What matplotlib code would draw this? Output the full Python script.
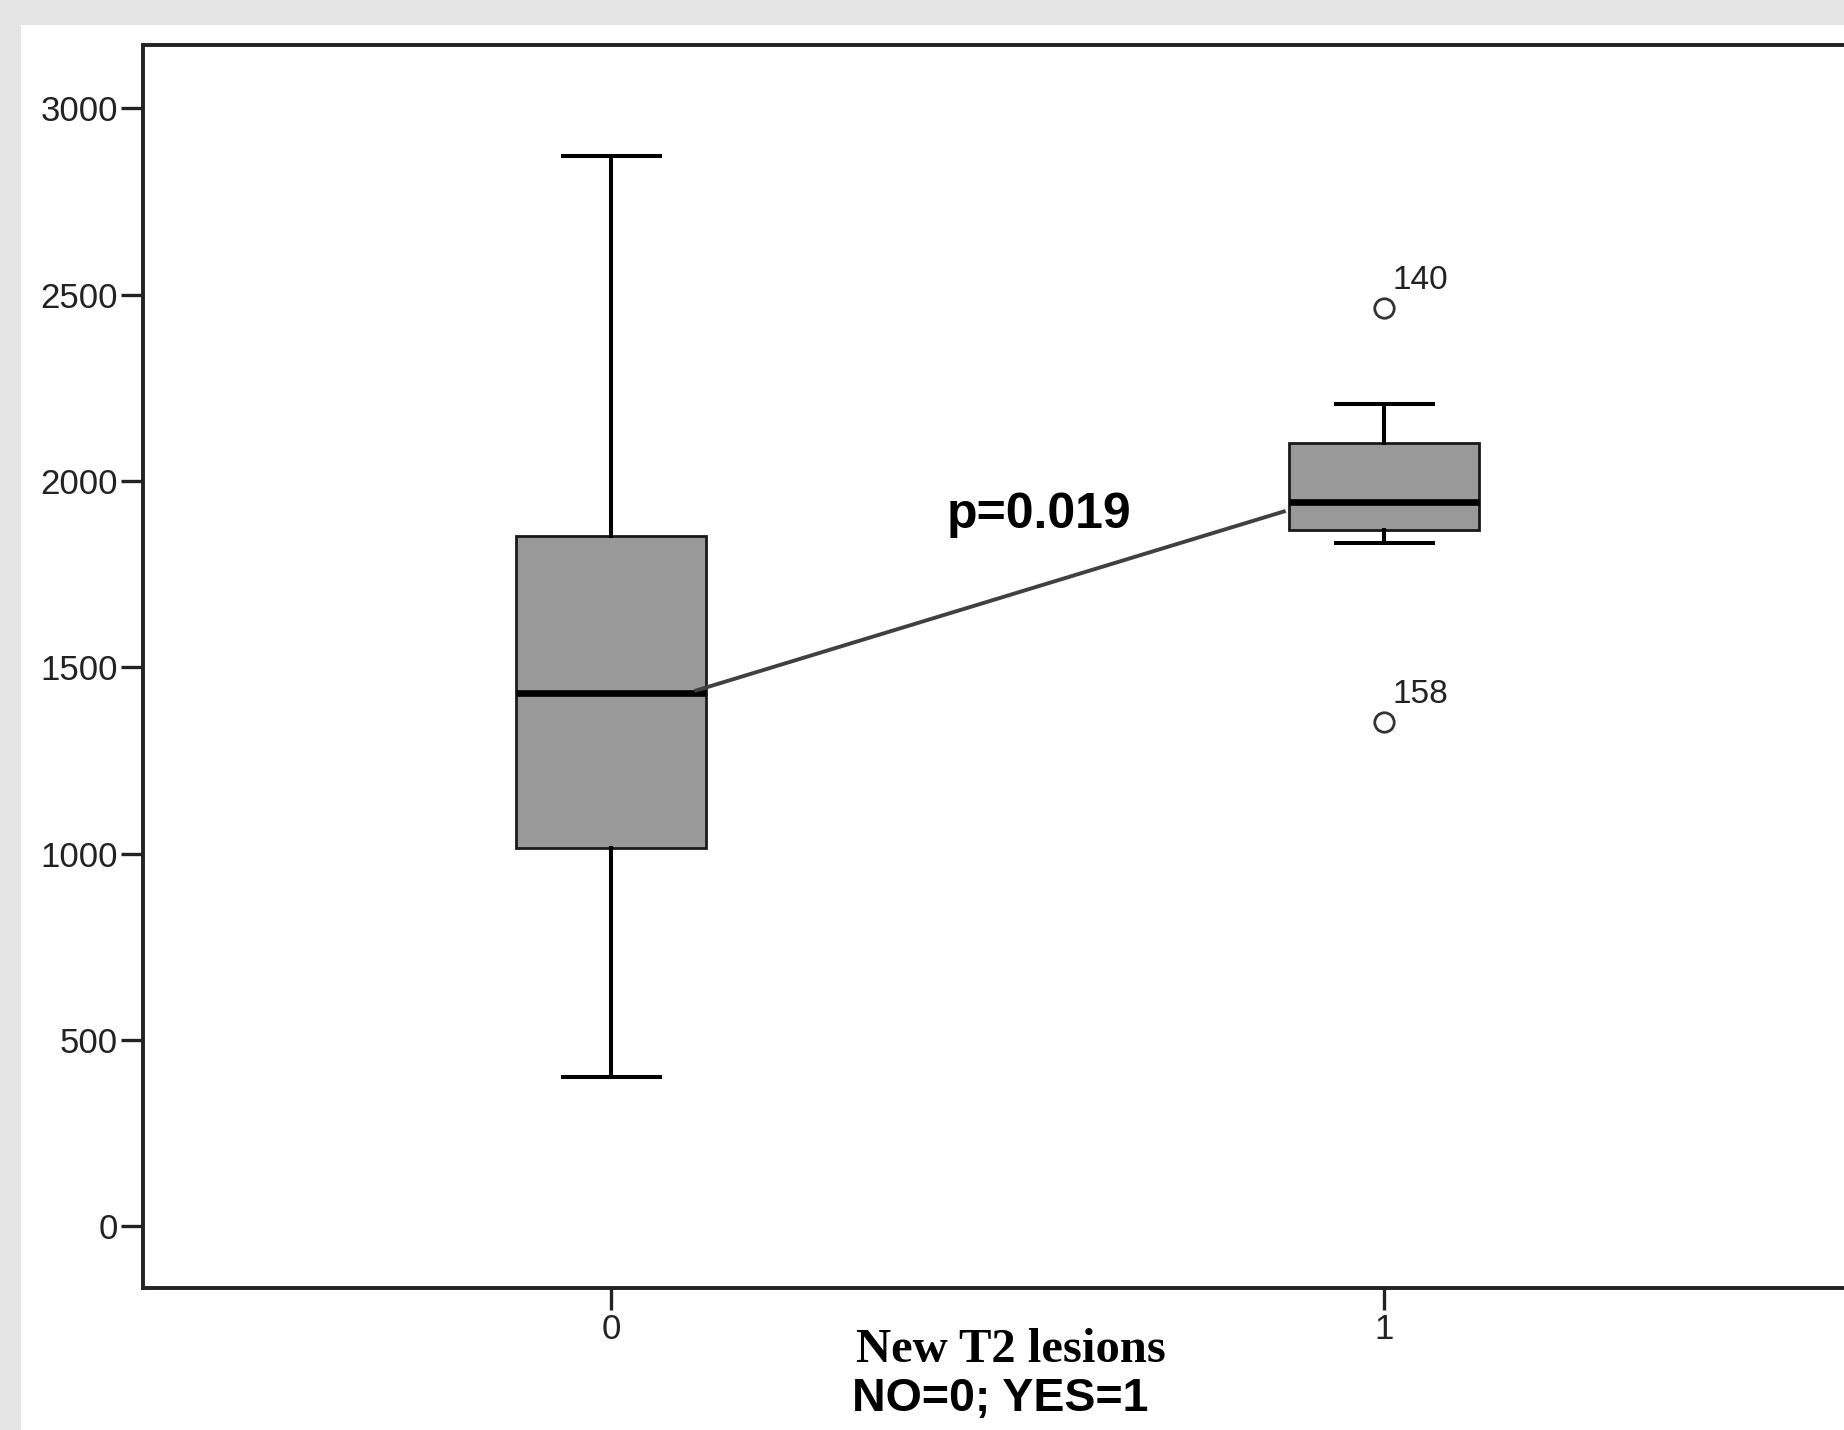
import matplotlib
matplotlib.use("Agg")
import matplotlib.pyplot as plt
from matplotlib.patches import Rectangle

# box statistics
groups = [0, 1]
q1 = [1015, 1867]
med = [1430, 1943]
q3 = [1852, 2101]
whislo = [400, 1833]
whishi = [2872, 2205]
fliers = [[], [2463, 1352]]
flier_ids = [[], ["140", "158"]]

p_text = "p=0.019"
line_x = [0.11, 0.87]
line_y = [1438, 1918]

fig = plt.figure(figsize=(18.44, 14.30), dpi=100)
fig.patch.set_facecolor("#e4e4e4")
fig.patches.append(Rectangle((21 / 1844, 0), 1, 1 - 25 / 1430,
                             transform=fig.transFigure, facecolor="white",
                             edgecolor="none", zorder=-10))

ax = fig.add_axes([143 / 1844, 0.0993, 0.9246, 0.8694])
ax.set_facecolor("white")

stats = []
for i in range(len(groups)):
    stats.append(dict(med=med[i], q1=q1[i], q3=q3[i], whislo=whislo[i],
                      whishi=whishi[i], fliers=fliers[i]))

ax.bxp(stats, positions=groups, widths=0.246, capwidths=0.125,
       patch_artist=True,
       boxprops=dict(facecolor="#999999", edgecolor="#1a1a1a", linewidth=2),
       medianprops=dict(color="black", linewidth=4.8),
       whiskerprops=dict(color="black", linewidth=2.9),
       capprops=dict(color="black", linewidth=2.9),
       flierprops=dict(marker="o", markerfacecolor="white",
                       markeredgecolor="#333333", markersize=14,
                       markeredgewidth=2))

for i in range(len(groups)):
    for v, lab in zip(fliers[i], flier_ids[i]):
        ax.annotate(lab, (groups[i], v), xytext=(6, 20),
                    textcoords="offset points", ha="left", va="center",
                    fontsize=24, family="Liberation Sans", color="#222222")

ax.plot(line_x, line_y, color="#404040", linewidth=2.8, zorder=5)
ax.text(0.553, 1908, p_text, ha="center", va="center", fontsize=36,
        fontweight="bold", family="Liberation Sans")

ax.set_xlim(-0.606, 1.6)
ax.set_ylim(-165, 3170)
ax.set_xticks(groups)
ax.set_xticklabels([str(g) for g in groups])
ax.set_yticks([0, 500, 1000, 1500, 2000, 2500, 3000])
for lab in ax.get_xticklabels() + ax.get_yticklabels():
    lab.set_family("Liberation Sans")
    lab.set_fontsize(25)
    lab.set_color("#222222")
ax.tick_params(direction="out", length=16, width=2.4, color="#222222", pad=2)

for s in ["left", "top", "bottom"]:
    ax.spines[s].set_linewidth(2.8)
    ax.spines[s].set_color("#222222")
ax.spines["right"].set_visible(False)

fig.text(1011 / 1844, 1 - 1350 / 1430, "New T2 lesions", ha="center",
         va="center", fontsize=35, fontweight="bold", family="Liberation Serif")
fig.text(1000 / 1844, 1 - 1399 / 1430, "NO=0; YES=1", ha="center",
         va="center", fontsize=33.5, fontweight="bold", family="Liberation Sans")

fig.savefig("out.png", dpi=100, facecolor=fig.get_facecolor())
